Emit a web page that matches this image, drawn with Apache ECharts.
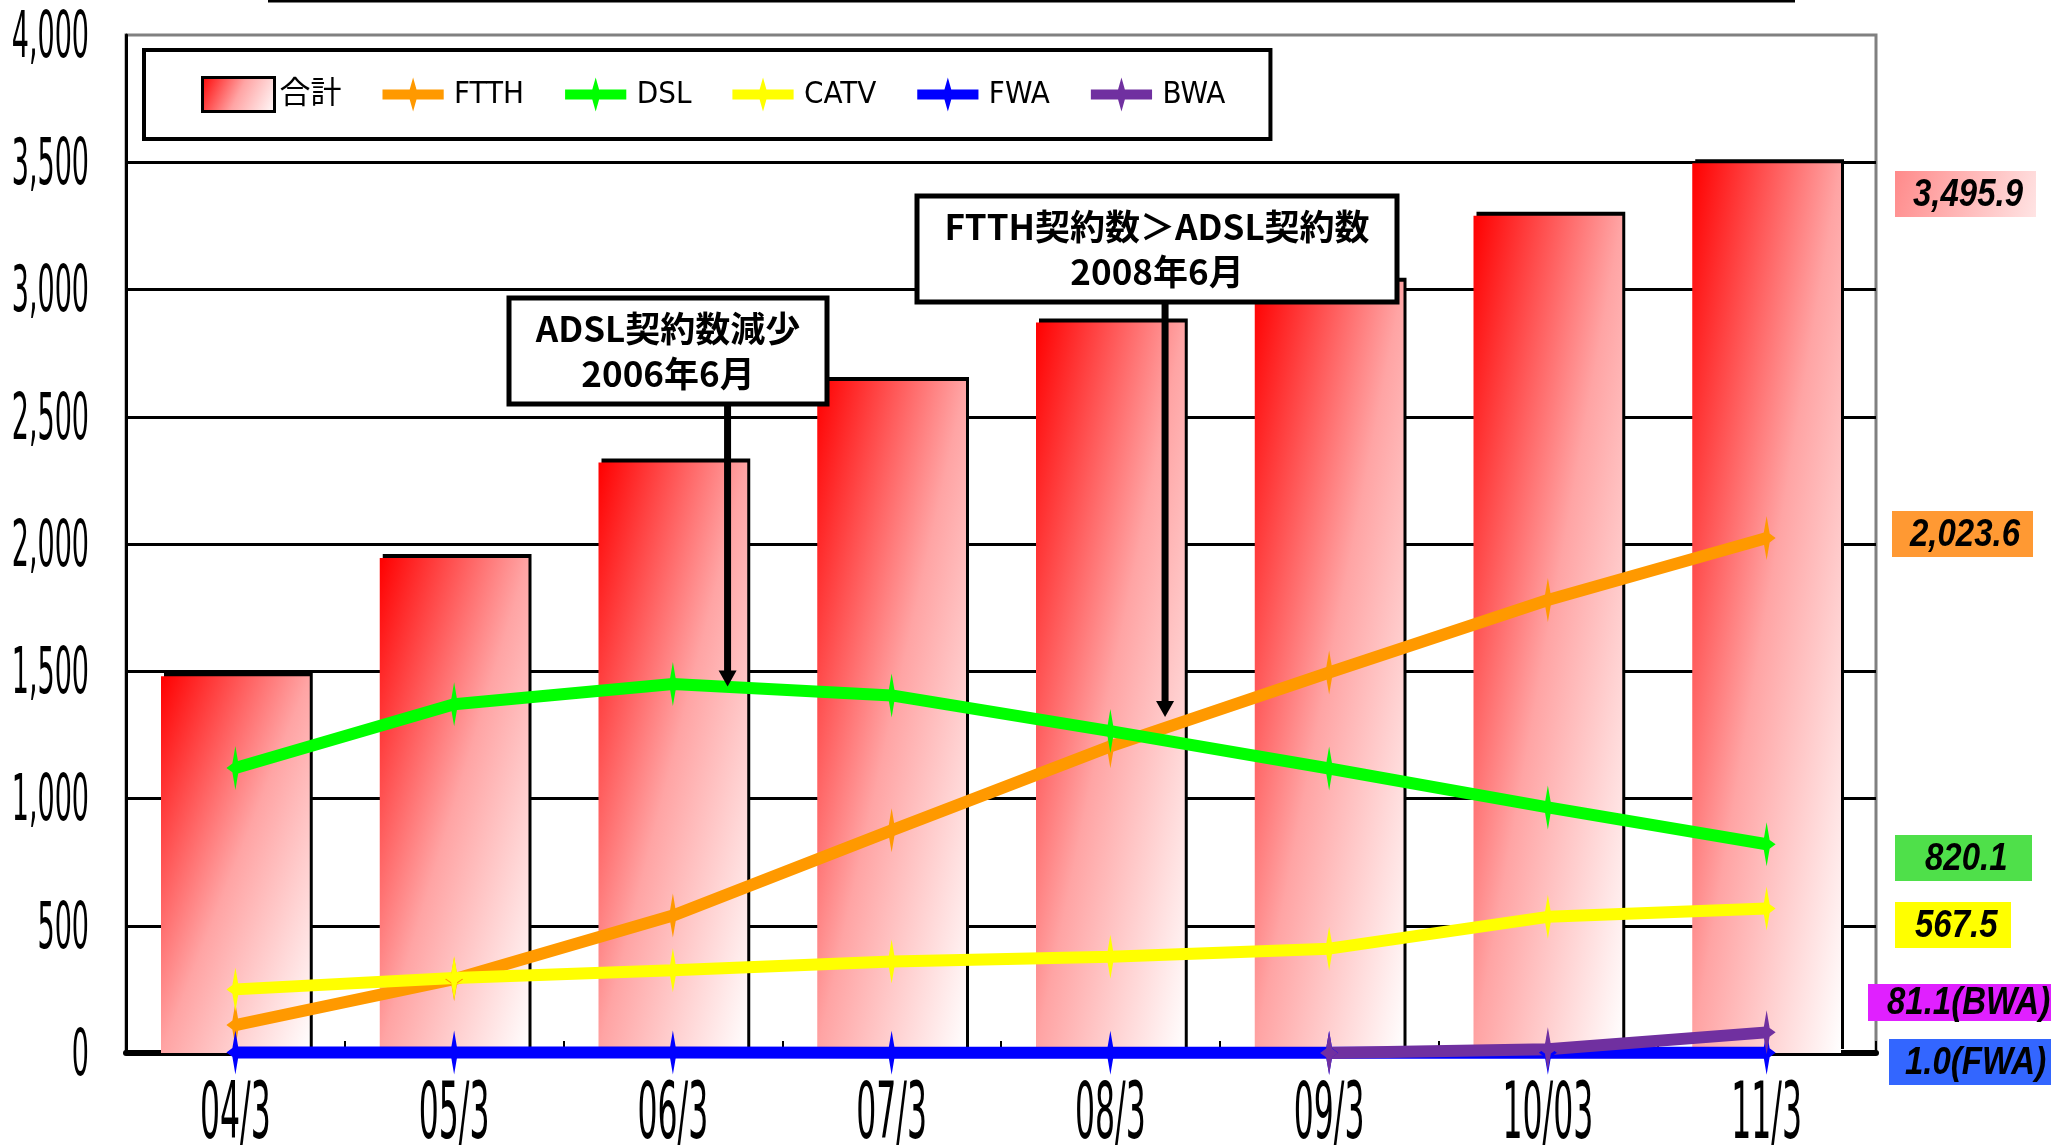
<!DOCTYPE html>
<html>
<head>
<meta charset="utf-8">
<title>ブロードバンド契約数の推移</title>
<script src="https://cdn.jsdelivr.net/npm/echarts@6/dist/echarts.min.js"></script>
<style>
  html, body { margin: 0; padding: 0; background: #fff; }
  #main { width: 2051px; height: 1148px; }
</style>
</head>
<body>
<div id="main"></div>
<script>
// 年度末 (カテゴリ)
const categories = ['04/3', '05/3', '06/3', '07/3', '08/3', '09/3', '10/03', '11/3'];

// 契約数 (万)
const totalValues = [1480, 1945, 2320, 2640, 2870, 3030, 3290, 3495.9];
const ftthValues  = [110, 290, 540, 875, 1205, 1495, 1780, 2023.6];
const dslValues   = [1120, 1370, 1450, 1405, 1265, 1118, 965, 820.1];
const catvValues  = [250, 295, 325, 360, 378, 410, 535, 567.5];
const fwaValues   = [2.1, 1.8, 1.6, 1.4, 1.3, 1.2, 1.1, 1.0];
const bwaValues   = [null, null, null, null, null, 0.1, 15, 81.1];

// 目盛り
const yTickValues = [0, 500, 1000, 1500, 2000, 2500, 3000, 3500, 4000];
const yTickLabels = ['0', '500', '1,000', '1,500', '2,000', '2,500', '3,000', '3,500', '4,000'];

// 吹き出し
const noteTexts = ['ADSL契約数減少\n2006年6月', 'FTTH契約数＞ADSL契約数\n2008年6月'];
const noteCategories = ['06/3', '08/3'];
const noteTargetValues = [1440, 1320];

const narrow = '"Liberation Sans Narrow", "DejaVu Sans Condensed", "Noto Sans CJK JP", sans-serif';
const cjkBold = '"Noto Sans CJK JP", "Noto Sans", sans-serif';
const starPath = 'path://M0,-20 L2,-4 L6,0 L2,4 L0,20 L-2,4 L-6,0 L-2,-4 Z';
// 凡例用: 太線 + 星
const legendLinePath = 'path://M-36,-6 L-4,-6 L0,-20 L4,-6 L36,-6 L36,6 L4,6 L0,20 L-4,6 L-36,6 Z';

const barStops = [
  { offset: 0, color: '#ff0000' },
  { offset: 0.5, color: '#ffa4a4' },
  { offset: 1, color: '#ffffff' }
];

function lineSeries(name, values, color) {
  return {
    name: name,
    type: 'line',
    data: values,
    symbol: starPath,
    symbolSize: [18, 44],
    showAllSymbol: true,
    connectNulls: false,
    lineStyle: { width: 12, color: color },
    itemStyle: { color: color },
    z: 3
  };
}

const chart = echarts.init(document.getElementById('main'));

chart.setOption({
  animation: false,
  backgroundColor: '#fff',
  grid: {
    left: 126, right: 175, top: 35, bottom: 95,
    show: true, borderColor: '#808080', borderWidth: 3
  },
  legend: {
    left: 144, top: 50,
    padding: [26, 45, 26, 57],
    itemGap: 41, itemWidth: 72, itemHeight: 34,
    backgroundColor: '#fff', borderColor: '#000', borderWidth: 4,
    textStyle: { fontFamily: narrow, fontSize: 31, color: '#000' },
    data: [
      { name: '合計', icon: 'rect', itemStyle: { borderColor: '#000', borderWidth: 3, shadowOffsetX: 0, shadowOffsetY: 0 } },
      { name: 'FTTH', icon: legendLinePath },
      { name: 'DSL', icon: legendLinePath },
      { name: 'CATV', icon: legendLinePath },
      { name: 'FWA', icon: legendLinePath },
      { name: 'BWA', icon: legendLinePath }
    ]
  },
  xAxis: {
    type: 'category',
    data: categories,
    boundaryGap: true,
    axisLine: { lineStyle: { color: '#000', width: 6 } },
    axisTick: { show: true, inside: true, length: 12, lineStyle: { color: '#000', width: 2 } },
    axisLabel: { show: false },
    splitLine: { show: false }
  },
  yAxis: {
    type: 'value',
    min: 0, max: 4000, interval: 500,
    axisLine: { show: true, lineStyle: { color: '#000', width: 3 } },
    axisTick: { show: false },
    axisLabel: { show: false },
    splitLine: { show: true, showMaxLine: false, lineStyle: { color: '#000', width: 3 } }
  },
  series: [
    {
      id: 'total',
      name: '合計',
      type: 'bar',
      data: totalValues,
      barWidth: '68%',
      itemStyle: {
        color: new echarts.graphic.LinearGradient(0, 0, 1, 1, barStops),
        shadowColor: '#000', shadowOffsetX: 3, shadowOffsetY: -4, shadowBlur: 0
      },
      z: 2
    },
    lineSeries('FTTH', ftthValues, '#ff9900'),
    lineSeries('DSL', dslValues, '#00ff00'),
    lineSeries('CATV', catvValues, '#ffff00'),
    lineSeries('FWA', fwaValues, '#0000ff'),
    lineSeries('BWA', bwaValues, '#7030a0')
  ]
});

// ここからピクセル位置を使う装飾
const px = c => chart.convertToPixel({ xAxisIndex: 0 }, c);
const py = v => chart.convertToPixel({ yAxisIndex: 0 }, v);
const band = px(categories[1]) - px(categories[0]);
const barW = band * 0.68;
const y0 = py(0);

// 棒ごとの斜めグラデーション (左上 赤 → 右下 白)
const totalData = totalValues.map((v, i) => {
  const x = px(categories[i]) - barW / 2;
  const top = py(v);
  const w = barW, h = y0 - top;
  const k = 2 * w * h / (w * w + h * h);
  return {
    value: v,
    itemStyle: { color: new echarts.graphic.LinearGradient(x, top, x + h * k, top + w * k, barStops, true) }
  };
});

function txt(x, y, text, font, align, scaleY, z) {
  return {
    type: 'text', x: x, y: y, scaleY: scaleY || 1, z: z || 10,
    style: {
      text: text, font: font, fill: '#000',
      align: align, verticalAlign: 'middle',
      textAlign: align, textVerticalAlign: 'middle'
    }
  };
}

const fmt = v => v.toFixed(1).replace(/\B(?=(\d{3})+(?!\d))/g, ',');
const graphics = [];

// 上端の線
graphics.push({ type: 'line', shape: { x1: 268, y1: 1, x2: 1795, y2: 1 }, style: { stroke: '#000', lineWidth: 3 } });

// 軸ラベル (縦長の細い字)
yTickValues.forEach((v, i) => graphics.push(txt(89, py(v) + 5, yTickLabels[i], '30px ' + narrow, 'right', 2.15)));
categories.forEach(c => graphics.push(txt(px(c), 1118, c, '35px ' + narrow, 'center', 2.25)));

// 吹き出しと矢印
const noteBoxes = [
  { x: 509, y: 298, w: 318, h: 106 },
  { x: 917, y: 196, w: 480, h: 106 }
];
noteBoxes.forEach((b, i) => {
  const ax = px(noteCategories[i]) + band * 0.25;
  const ay = py(noteTargetValues[i]);
  graphics.push({ type: 'line', z: 9, shape: { x1: ax, y1: b.y + b.h, x2: ax, y2: ay - 14 }, style: { stroke: '#000', lineWidth: 7 } });
  graphics.push({ type: 'polygon', z: 9, shape: { points: [[ax - 9, ay - 16], [ax + 9, ay - 16], [ax, ay]] }, style: { fill: '#000' } });
  graphics.push({ type: 'rect', z: 10, shape: { x: b.x, y: b.y, width: b.w, height: b.h }, style: { fill: '#fff', stroke: '#000', lineWidth: 5 } });
  const t = txt(b.x + b.w / 2, b.y + b.h / 2, noteTexts[i], 'bold 35px ' + cjkBold, 'center', 1, 11);
  t.style.lineHeight = 45;
  graphics.push(t);
});

// 右側の値ラベル
const valueFont = 'italic bold 33px "Liberation Sans", Arial, sans-serif';
const sideLabels = [
  { text: fmt(totalValues[7]), x: 1895, y: 171, w: 141, h: 46, tx: 1913,
    fill: new echarts.graphic.LinearGradient(0, 0, 1, 1, [{ offset: 0, color: '#ff8a8a' }, { offset: 1, color: '#ffe4e4' }]) },
  { text: fmt(ftthValues[7]), x: 1892, y: 511, w: 141, h: 46, tx: 1910, fill: '#ff9933' },
  { text: fmt(dslValues[7]), x: 1895, y: 835, w: 137, h: 46, tx: 1925, fill: '#4fe04a' },
  { text: fmt(catvValues[7]), x: 1895, y: 902, w: 116, h: 46, tx: 1915, fill: '#ffff00' },
  { text: fmt(bwaValues[7]) + '(BWA)', x: 1868, y: 984, w: 190, h: 37, tx: 1887, fill: '#e020ff' },
  { text: fmt(fwaValues[7]) + '(FWA)', x: 1889, y: 1039, w: 170, h: 46, tx: 1905, fill: '#3366ff' }
];
sideLabels.forEach(l => {
  graphics.push({ type: 'rect', z: 10, shape: { x: l.x, y: l.y, width: l.w, height: l.h }, style: { fill: l.fill } });
  graphics.push(txt(l.tx, l.y + l.h / 2 + 1, l.text, valueFont, 'left', 1.18, 11));
});

chart.setOption({
  series: [{ id: 'total', data: totalData }],
  graphic: graphics
});
</script>
</body>
</html>
